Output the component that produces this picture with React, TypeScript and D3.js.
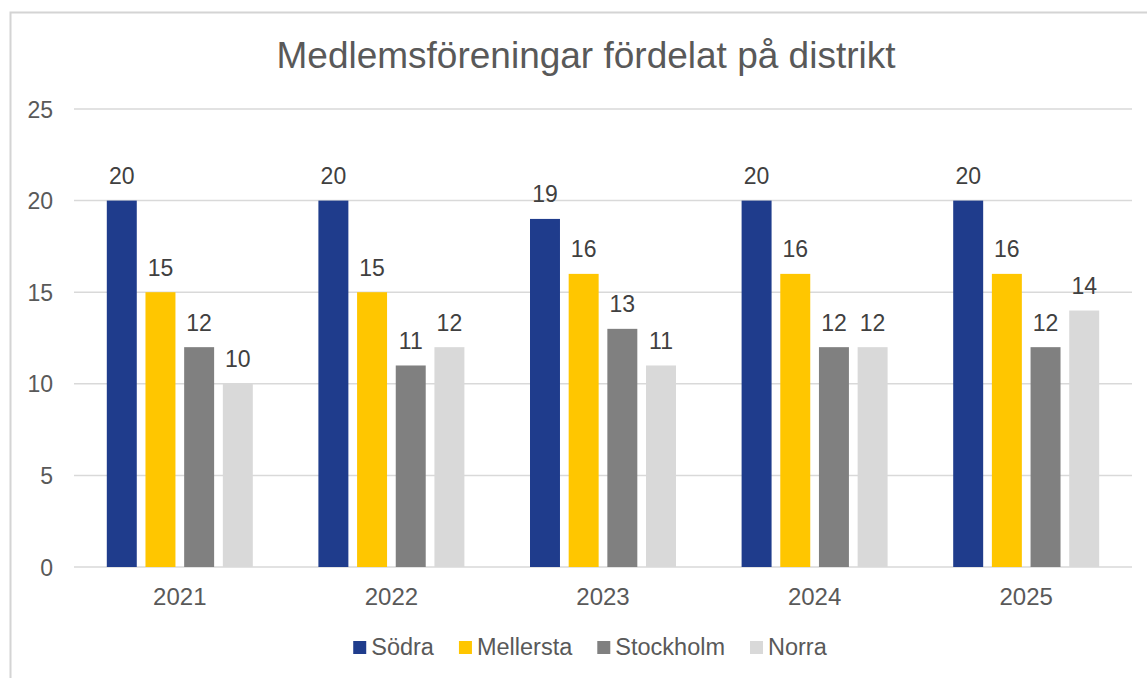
import { useEffect, useRef } from 'react';
import * as d3 from 'd3';

// chart data
const years = ['2021', '2022', '2023', '2024', '2025'];
const districts = ['Södra', 'Mellersta', 'Stockholm', 'Norra'];
const sodra = [20, 20, 19, 20, 20];
const mellersta = [15, 15, 16, 16, 16];
const stockholm = [12, 11, 13, 12, 12];
const norra = [10, 12, 11, 12, 14];
const yTicks = [0, 5, 10, 15, 20, 25];
const title = 'Medlemsföreningar fördelat på distrikt';

const colors = ['#1F3C8C', '#FFC600', '#808080', '#D9D9D9'];
const FONT = '"Liberation Sans", Arial, sans-serif';

const W = 1147;
const H = 678;

const App = () => {
  const svgRef = useRef<SVGSVGElement>(null);

  useEffect(() => {
    if (!svgRef.current) return;
    const svg = d3.select(svgRef.current);
    svg.selectAll('*').remove();

    const series = [sodra, mellersta, stockholm, norra];

    // background + chart border (only top and left edges show)
    svg.append('rect').attr('width', W).attr('height', H).attr('fill', 'white');
    svg.append('rect')
      .attr('x', 10.5).attr('y', 12.5)
      .attr('width', W + 20).attr('height', H + 20)
      .attr('fill', 'white')
      .attr('stroke', '#D4D4D4')
      .attr('stroke-width', 2);

    svg.append('text')
      .attr('x', 586)
      .attr('y', 68)
      .attr('text-anchor', 'middle')
      .attr('font-family', FONT)
      .attr('font-size', 37)
      .attr('fill', '#595959')
      .text(title);

    const x0 = d3.scaleBand().domain(years).range([74, 1132]).padding(0);
    const groupW = 146;
    const x1 = d3.scaleBand()
      .domain(districts)
      .range([0, groupW])
      .paddingInner(0.225)
      .paddingOuter(0);
    const y = d3.scaleLinear().domain([0, 25]).range([567, 109]);

    // gridlines
    svg.append('g')
      .selectAll('line')
      .data(yTicks)
      .enter()
      .append('line')
      .attr('x1', 74)
      .attr('x2', 1132)
      .attr('y1', d => y(d))
      .attr('y2', d => y(d))
      .attr('stroke', '#D9D9D9')
      .attr('stroke-width', 1.5);

    // y tick labels
    svg.append('g')
      .selectAll('text')
      .data(yTicks)
      .enter()
      .append('text')
      .attr('x', 53)
      .attr('y', d => y(d) + 8.5)
      .attr('text-anchor', 'end')
      .attr('font-family', FONT)
      .attr('font-size', 23)
      .attr('fill', '#595959')
      .text(d => d);

    // bars + labels
    const groups = svg.append('g')
      .selectAll('g')
      .data(years)
      .enter()
      .append('g')
      .attr('transform', d => `translate(${x0(d)! + (x0.bandwidth() - groupW) / 2},0)`);

    districts.forEach((name, si) => {
      groups.append('rect')
        .attr('x', x1(name)!)
        .attr('y', (_, i) => y(series[si][i]))
        .attr('width', x1.bandwidth())
        .attr('height', (_, i) => y(0) - y(series[si][i]))
        .attr('fill', colors[si]);

      groups.append('text')
        .attr('x', x1(name)! + x1.bandwidth() / 2)
        .attr('y', (_, i) => y(series[si][i]) - 16.5)
        .attr('text-anchor', 'middle')
        .attr('font-family', FONT)
        .attr('font-size', 23)
        .attr('fill', '#404040')
        .text((_, i) => series[si][i]);
    });

    // x labels
    svg.append('g')
      .selectAll('text')
      .data(years)
      .enter()
      .append('text')
      .attr('x', d => x0(d)! + x0.bandwidth() / 2)
      .attr('y', 605)
      .attr('text-anchor', 'middle')
      .attr('font-family', FONT)
      .attr('font-size', 24)
      .attr('fill', '#595959')
      .text(d => d);

    // legend, measured then centered
    const legend = svg.append('g');
    const items = districts.map((name, i) => {
      const g = legend.append('g');
      g.append('rect')
        .attr('y', 641)
        .attr('width', 13)
        .attr('height', 13)
        .attr('fill', colors[i]);
      const t = g.append('text')
        .attr('x', 18)
        .attr('y', 655)
        .attr('font-family', FONT)
        .attr('font-size', 23.5)
        .attr('fill', '#595959')
        .text(name);
      const w = 18 + (t.node() as SVGTextElement).getComputedTextLength();
      return { g, w };
    });
    const gap = 25;
    const total = d3.sum(items, d => d.w) + gap * (items.length - 1);
    let cx = 590 - total / 2;
    items.forEach(it => {
      it.g.attr('transform', `translate(${cx},0)`);
      cx += it.w + gap;
    });
  }, []);

  return (
    <svg
      ref={svgRef}
      width={W}
      height={H}
      style={{ position: 'absolute', left: 0, top: 0, display: 'block' }}
    />
  );
};

export default App;
